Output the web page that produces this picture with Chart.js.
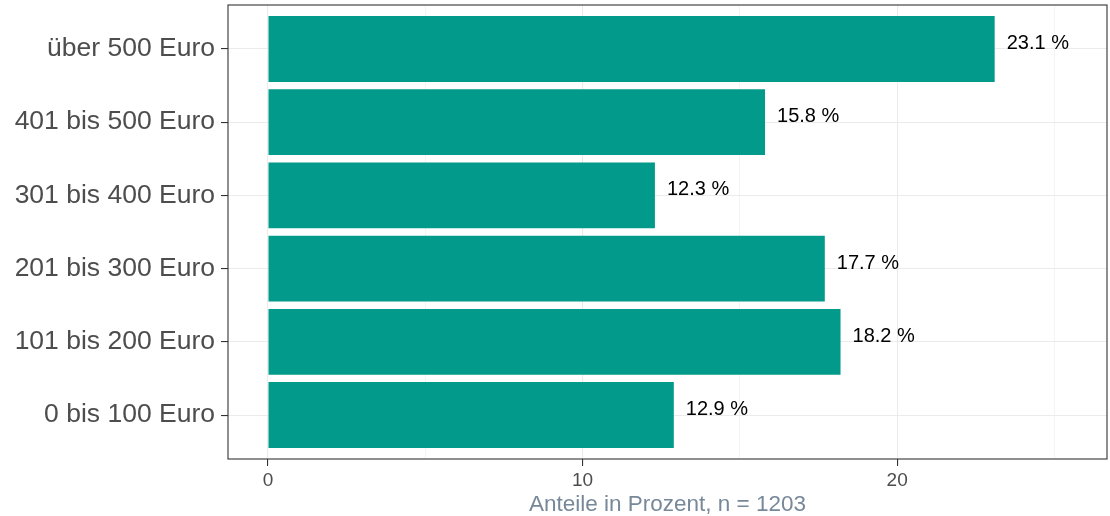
<!DOCTYPE html>
<html>
<head>
<meta charset="utf-8">
<script src="https://cdn.jsdelivr.net/npm/chart.js@4/dist/chart.umd.min.js"></script>
<style>
  body { margin: 0; background: #fff; }
  #wrap { width: 1110px; height: 516px; }
</style>
</head>
<body>
<div id="wrap"><canvas id="myChart"></canvas></div>
<script>
// Kategorien von unten nach oben
var categories = ['0 bis 100 Euro', '101 bis 200 Euro', '201 bis 300 Euro', '301 bis 400 Euro', '401 bis 500 Euro', 'über 500 Euro'];
var shares = [12.9, 18.2, 17.7, 12.3, 15.8, 23.1];
var xTicks = [0, 5, 10, 15, 20, 25];
var xLabelTicks = [0, 10, 20];
var xTitle = 'Anteile in Prozent, n = 1203';

var fontFamily = '"Liberation Sans", Arial, sans-serif';
var barColor = '#029a8a';

// Panel border like theme_bw
const panelBorder = {
    id: 'panelBorder',
    afterDraw(chart) {
        const a = chart.chartArea;
        const ctx = chart.ctx;
        ctx.save();
        ctx.strokeStyle = '#333333';
        ctx.lineWidth = 1.1;
        ctx.strokeRect(a.left, a.top, a.right - a.left, a.bottom - a.top);
        ctx.restore();
    }
};

// value labels right of the bars
const barLabels = {
    id: 'barLabels',
    afterDatasetsDraw(chart) {
        const ctx = chart.ctx;
        const meta = chart.getDatasetMeta(0);
        ctx.save();
        ctx.font = '20px ' + fontFamily;
        ctx.fillStyle = '#000000';
        ctx.textAlign = 'left';
        ctx.textBaseline = 'alphabetic';
        meta.data.forEach(function (bar, i) {
            ctx.fillText(shares[i].toFixed(1) + ' %', bar.x + 12, bar.y);
        });
        ctx.restore();
    }
};

const data = {
    datasets: [{
        data: shares.map(function (v, i) { return { x: v, y: i + 1 }; }),
        backgroundColor: barColor,
        borderWidth: 0,
        barPercentage: 0.9,
        categoryPercentage: 1.0
    }]
};

const config = {
    type: 'bar',
    data: data,
    options: {
        indexAxis: 'y',
        responsive: true,
        maintainAspectRatio: false,
        animation: false,
        devicePixelRatio: 1,
        layout: { padding: { top: 5, right: 3, left: 0, bottom: 0 } },
        plugins: { legend: { display: false }, tooltip: { enabled: false } },
        scales: {
            x: {
                type: 'linear',
                min: -1.27,
                max: 26.67,
                afterBuildTicks: function (scale) {
                    scale.ticks = xTicks.map(function (v) { return { value: v }; });
                },
                afterFit: function (scale) {
                    scale.height = 57;
                    scale.paddingLeft = 0;
                    scale.paddingRight = 0;
                },
                border: { display: false },
                grid: {
                    color: '#ebebeb',
                    lineWidth: function (c) { return xLabelTicks.indexOf(c.tick.value) >= 0 ? 1.1 : 0.55; },
                    tickLength: 7,
                    tickColor: function (c) { return xLabelTicks.indexOf(c.tick.value) >= 0 ? '#333333' : 'rgba(0,0,0,0)'; },
                    tickWidth: 1.1
                },
                ticks: {
                    autoSkip: false,
                    maxRotation: 0,
                    padding: 3,
                    color: '#4d4d4d',
                    font: { family: fontFamily, size: 19 },
                    callback: function (v) { return xLabelTicks.indexOf(v) >= 0 ? String(v) : ''; }
                },
                title: {
                    display: true,
                    text: xTitle,
                    color: '#778899',
                    font: { family: fontFamily, size: 22.5, lineHeight: 1.0 },
                    padding: { top: 0, bottom: 0 }
                }
            },
            y: {
                type: 'linear',
                min: 0.4,
                max: 6.6,
                offset: false,
                afterBuildTicks: function (scale) {
                    scale.ticks = categories.map(function (c, i) { return { value: i + 1 }; });
                },
                afterFit: function (scale) {
                    scale.width = 228;
                    scale.paddingTop = 0;
                    scale.paddingBottom = 0;
                },
                border: { display: false },
                grid: {
                    offset: false,
                    color: '#ebebeb',
                    lineWidth: 1.1,
                    tickLength: 7,
                    tickColor: '#333333',
                    tickWidth: 1.1
                },
                ticks: {
                    autoSkip: false,
                    padding: 6,
                    color: '#4d4d4d',
                    font: { family: fontFamily, size: 26.5 },
                    callback: function (v) { return categories[v - 1]; }
                }
            }
        }
    },
    plugins: [panelBorder, barLabels]
};

var myChart = new Chart(document.getElementById('myChart'), config);
</script>
</body>
</html>
